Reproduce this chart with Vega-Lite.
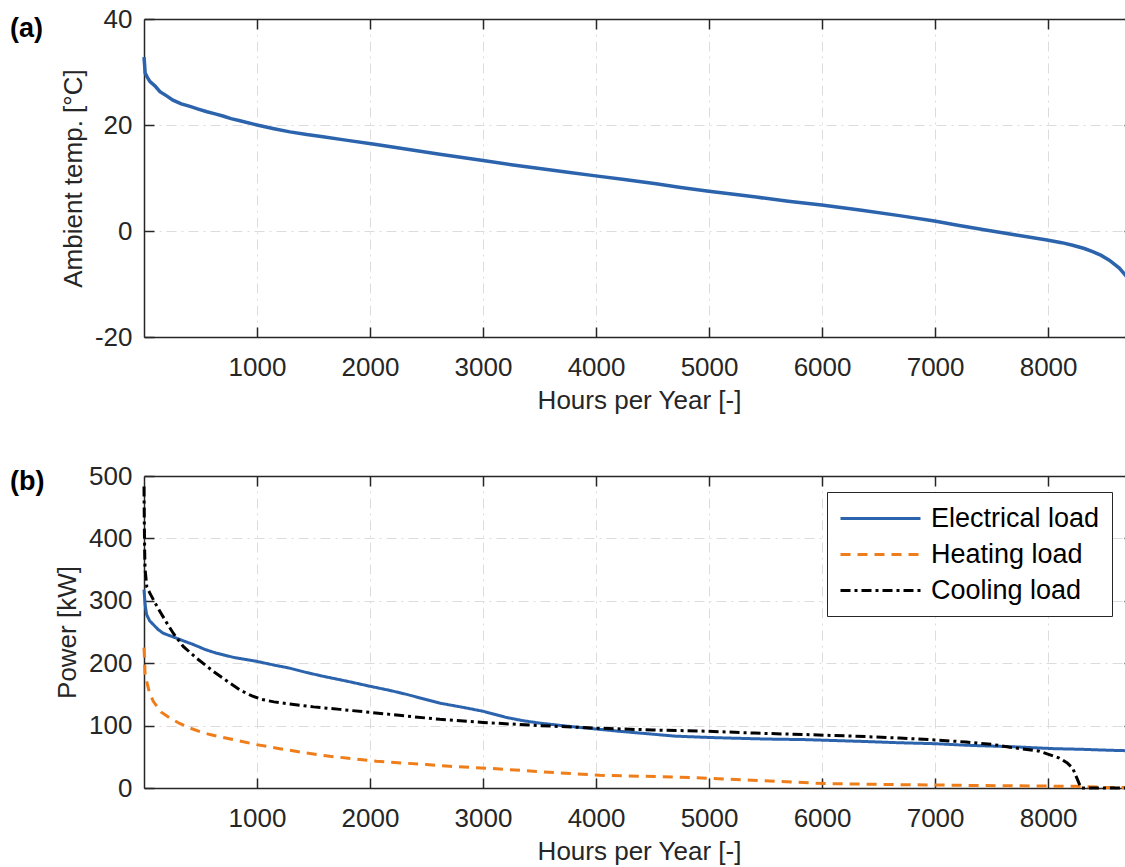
{
  "$schema": "https://vega.github.io/schema/vega-lite/v6.json",
  "autosize": {"type": "none"},
  "padding": {"left": 144, "top": 19, "right": 981, "bottom": 848},
  "background": "white",
  "spacing": 50,
  "datasets": {
    "temp": [
      {"h": 0, "t": 32.8}, {"h": 5, "t": 31.5}, {"h": 10, "t": 29.8}, {"h": 30, "t": 29.0},
      {"h": 53, "t": 28.2}, {"h": 100, "t": 27.3}, {"h": 141, "t": 26.3}, {"h": 200, "t": 25.5},
      {"h": 256, "t": 24.7}, {"h": 330, "t": 24.0}, {"h": 407, "t": 23.5}, {"h": 480, "t": 23.0},
      {"h": 557, "t": 22.5}, {"h": 630, "t": 22.1}, {"h": 698, "t": 21.7}, {"h": 770, "t": 21.2},
      {"h": 849, "t": 20.8}, {"h": 1000, "t": 20.0}, {"h": 1150, "t": 19.3}, {"h": 1291, "t": 18.7},
      {"h": 1440, "t": 18.2}, {"h": 1583, "t": 17.8}, {"h": 1800, "t": 17.1}, {"h": 2025, "t": 16.4},
      {"h": 2300, "t": 15.5}, {"h": 2617, "t": 14.5}, {"h": 3000, "t": 13.3}, {"h": 3250, "t": 12.5},
      {"h": 3501, "t": 11.8}, {"h": 3750, "t": 11.1}, {"h": 3997, "t": 10.4}, {"h": 4250, "t": 9.7},
      {"h": 4531, "t": 8.9}, {"h": 4750, "t": 8.2}, {"h": 4998, "t": 7.5}, {"h": 5200, "t": 7.0},
      {"h": 5417, "t": 6.4}, {"h": 5700, "t": 5.6}, {"h": 5997, "t": 4.9}, {"h": 6350, "t": 3.9},
      {"h": 6684, "t": 2.9}, {"h": 6994, "t": 1.9}, {"h": 7200, "t": 1.1}, {"h": 7421, "t": 0.3},
      {"h": 7716, "t": -0.75}, {"h": 7990, "t": -1.7}, {"h": 8120, "t": -2.2}, {"h": 8217, "t": -2.7},
      {"h": 8320, "t": -3.3}, {"h": 8394, "t": -3.9}, {"h": 8470, "t": -4.6},
      {"h": 8541, "t": -5.5}, {"h": 8630, "t": -7.0}, {"h": 8674, "t": -8.1}, {"h": 8720, "t": -9.3},
      {"h": 8760, "t": -11.0}
    ],
    "load": [
      {"h": 0, "p": 318, "s": "Electrical load"}, {"h": 10, "p": 294, "s": "Electrical load"},
      {"h": 23, "p": 278, "s": "Electrical load"}, {"h": 50, "p": 268, "s": "Electrical load"},
      {"h": 82, "p": 262, "s": "Electrical load"}, {"h": 125, "p": 254, "s": "Electrical load"},
      {"h": 170, "p": 248, "s": "Electrical load"}, {"h": 230, "p": 244, "s": "Electrical load"},
      {"h": 289, "p": 240, "s": "Electrical load"}, {"h": 360, "p": 235, "s": "Electrical load"},
      {"h": 436, "p": 230, "s": "Electrical load"}, {"h": 540, "p": 222, "s": "Electrical load"},
      {"h": 642, "p": 216, "s": "Electrical load"}, {"h": 800, "p": 209, "s": "Electrical load"},
      {"h": 996, "p": 203, "s": "Electrical load"}, {"h": 1150, "p": 197, "s": "Electrical load"},
      {"h": 1291, "p": 192, "s": "Electrical load"}, {"h": 1440, "p": 185, "s": "Electrical load"},
      {"h": 1586, "p": 179, "s": "Electrical load"}, {"h": 1800, "p": 171, "s": "Electrical load"},
      {"h": 2000, "p": 163, "s": "Electrical load"}, {"h": 2160, "p": 157, "s": "Electrical load"},
      {"h": 2325, "p": 150, "s": "Electrical load"}, {"h": 2470, "p": 143, "s": "Electrical load"},
      {"h": 2617, "p": 136, "s": "Electrical load"}, {"h": 2800, "p": 130, "s": "Electrical load"},
      {"h": 3000, "p": 123, "s": "Electrical load"}, {"h": 3207, "p": 113, "s": "Electrical load"},
      {"h": 3350, "p": 108, "s": "Electrical load"}, {"h": 3501, "p": 104, "s": "Electrical load"},
      {"h": 3750, "p": 99, "s": "Electrical load"}, {"h": 3997, "p": 94.6, "s": "Electrical load"},
      {"h": 4200, "p": 91, "s": "Electrical load"}, {"h": 4386, "p": 88, "s": "Electrical load"},
      {"h": 4711, "p": 83, "s": "Electrical load"}, {"h": 5000, "p": 81, "s": "Electrical load"},
      {"h": 5180, "p": 80, "s": "Electrical load"}, {"h": 5500, "p": 78.5, "s": "Electrical load"},
      {"h": 5858, "p": 77.5, "s": "Electrical load"}, {"h": 6300, "p": 75, "s": "Electrical load"},
      {"h": 6684, "p": 72.5, "s": "Electrical load"}, {"h": 7000, "p": 71, "s": "Electrical load"},
      {"h": 7275, "p": 68.5, "s": "Electrical load"}, {"h": 7700, "p": 66, "s": "Electrical load"},
      {"h": 8055, "p": 63, "s": "Electrical load"}, {"h": 8300, "p": 62, "s": "Electrical load"},
      {"h": 8541, "p": 60.5, "s": "Electrical load"}, {"h": 8760, "p": 59.5, "s": "Electrical load"},

      {"h": 0, "p": 225, "s": "Heating load"}, {"h": 5, "p": 205, "s": "Heating load"},
      {"h": 9, "p": 184, "s": "Heating load"}, {"h": 23, "p": 171, "s": "Heating load"},
      {"h": 50, "p": 152, "s": "Heating load"}, {"h": 82, "p": 139, "s": "Heating load"},
      {"h": 150, "p": 122, "s": "Heating load"}, {"h": 230, "p": 112, "s": "Heating load"},
      {"h": 320, "p": 103, "s": "Heating load"}, {"h": 407, "p": 96, "s": "Heating load"},
      {"h": 500, "p": 90, "s": "Heating load"}, {"h": 584, "p": 85.6, "s": "Heating load"},
      {"h": 790, "p": 77.6, "s": "Heating load"}, {"h": 996, "p": 69.5, "s": "Heating load"},
      {"h": 1202, "p": 63, "s": "Heating load"}, {"h": 1438, "p": 56, "s": "Heating load"},
      {"h": 1645, "p": 50.8, "s": "Heating load"}, {"h": 1851, "p": 47, "s": "Heating load"},
      {"h": 2057, "p": 42.8, "s": "Heating load"}, {"h": 2293, "p": 40, "s": "Heating load"},
      {"h": 2500, "p": 37.5, "s": "Heating load"}, {"h": 2706, "p": 34.8, "s": "Heating load"},
      {"h": 3148, "p": 30.5, "s": "Heating load"}, {"h": 3590, "p": 25.2, "s": "Heating load"},
      {"h": 4032, "p": 20.4, "s": "Heating load"}, {"h": 4711, "p": 17.6, "s": "Heating load"},
      {"h": 5150, "p": 14.4, "s": "Heating load"}, {"h": 5592, "p": 10.7, "s": "Heating load"},
      {"h": 6034, "p": 7, "s": "Heating load"}, {"h": 6684, "p": 5.4, "s": "Heating load"},
      {"h": 7400, "p": 4, "s": "Heating load"}, {"h": 8244, "p": 2.7, "s": "Heating load"},
      {"h": 8500, "p": 1, "s": "Heating load"}, {"h": 8760, "p": 0.5, "s": "Heating load"},

      {"h": 0, "p": 483, "s": "Cooling load"}, {"h": 3, "p": 420, "s": "Cooling load"},
      {"h": 6, "p": 380, "s": "Cooling load"}, {"h": 9, "p": 352, "s": "Cooling load"},
      {"h": 25, "p": 322, "s": "Cooling load"}, {"h": 53, "p": 312, "s": "Cooling load"},
      {"h": 100, "p": 296, "s": "Cooling load"}, {"h": 141, "p": 283, "s": "Cooling load"},
      {"h": 200, "p": 265, "s": "Cooling load"}, {"h": 259, "p": 248, "s": "Cooling load"},
      {"h": 347, "p": 227, "s": "Cooling load"}, {"h": 465, "p": 208, "s": "Cooling load"},
      {"h": 613, "p": 187, "s": "Cooling load"}, {"h": 760, "p": 168, "s": "Cooling load"},
      {"h": 860, "p": 156, "s": "Cooling load"}, {"h": 950, "p": 148, "s": "Cooling load"},
      {"h": 1040, "p": 142, "s": "Cooling load"}, {"h": 1150, "p": 138, "s": "Cooling load"},
      {"h": 1291, "p": 134.5, "s": "Cooling load"},
      {"h": 1500, "p": 130, "s": "Cooling load"}, {"h": 1733, "p": 126, "s": "Cooling load"},
      {"h": 2175, "p": 118, "s": "Cooling load"}, {"h": 2617, "p": 110, "s": "Cooling load"},
      {"h": 3000, "p": 105, "s": "Cooling load"}, {"h": 3501, "p": 100, "s": "Cooling load"},
      {"h": 3997, "p": 96, "s": "Cooling load"}, {"h": 4500, "p": 93, "s": "Cooling load"},
      {"h": 4976, "p": 91, "s": "Cooling load"}, {"h": 5400, "p": 88, "s": "Cooling load"},
      {"h": 5858, "p": 85.6, "s": "Cooling load"}, {"h": 6300, "p": 83, "s": "Cooling load"},
      {"h": 6684, "p": 80, "s": "Cooling load"}, {"h": 7000, "p": 77, "s": "Cooling load"},
      {"h": 7275, "p": 73.7, "s": "Cooling load"}, {"h": 7500, "p": 70, "s": "Cooling load"},
      {"h": 7716, "p": 64, "s": "Cooling load"}, {"h": 7922, "p": 59, "s": "Cooling load"},
      {"h": 8099, "p": 48, "s": "Cooling load"}, {"h": 8170, "p": 40, "s": "Cooling load"},
      {"h": 8217, "p": 32, "s": "Cooling load"}, {"h": 8261, "p": 13, "s": "Cooling load"},
      {"h": 8291, "p": 0, "s": "Cooling load"}, {"h": 8400, "p": 0, "s": "Cooling load"},
      {"h": 8760, "p": 0, "s": "Cooling load"}
    ]
  },
  "vconcat": [
    {
      "width": 990,
      "height": 318,
      "title": {"text": "(a)", "anchor": "start", "frame": "group", "fontWeight": "bold", "fontSize": 27, "color": "#000000", "dx": -134, "dy": 41},
      "data": {"name": "temp"},
      "resolve": {"axis": {"x": "independent", "y": "independent"}},
      "layer": [
        {
          "mark": {"type": "line", "color": "#2c63ad", "strokeWidth": 3.5},
          "encoding": {
            "x": {"field": "h", "type": "quantitative", "scale": {"domain": [0, 8760], "nice": false, "zero": false},
                  "axis": {"title": "Hours per Year [-]", "values": [1000, 2000, 3000, 4000, 5000, 6000, 7000, 8000], "format": "d", "grid": true}},
            "y": {"field": "t", "type": "quantitative", "scale": {"domain": [-20, 40], "nice": false, "zero": false},
                  "axis": {"title": "Ambient temp. [°C]", "values": [-20, 0, 20, 40], "grid": true, "labelExpr": "'' + datum.value"}}
          }
        },
        {
          "mark": {"type": "line", "strokeOpacity": 0},
          "encoding": {
            "x": {"field": "h", "type": "quantitative", "axis": {"orient": "top", "labels": false, "title": null, "grid": false, "values": [1000, 2000, 3000, 4000, 5000, 6000, 7000, 8000]}},
            "y": {"field": "t", "type": "quantitative", "axis": {"orient": "right", "labels": false, "title": null, "grid": false, "values": [-20, 0, 20, 40]}}
          }
        }
      ]
    },
    {
      "width": 990,
      "height": 312,
      "title": {"text": "(b)", "anchor": "start", "frame": "group", "fontWeight": "bold", "fontSize": 27, "color": "#000000", "dx": -134, "dy": 37},
      "data": {"name": "load"},
      "resolve": {"axis": {"x": "independent", "y": "independent"}},
      "layer": [
        {
          "mark": {"type": "line", "strokeWidth": 3},
          "encoding": {
            "x": {"field": "h", "type": "quantitative", "scale": {"domain": [0, 8760], "nice": false, "zero": false},
                  "axis": {"title": "Hours per Year [-]", "values": [1000, 2000, 3000, 4000, 5000, 6000, 7000, 8000], "format": "d", "grid": true}},
            "y": {"field": "p", "type": "quantitative", "scale": {"domain": [0, 500], "nice": false},
                  "axis": {"title": "Power [kW]", "values": [0, 100, 200, 300, 400, 500], "grid": true}},
            "color": {"field": "s", "type": "nominal",
                      "scale": {"domain": ["Electrical load", "Heating load", "Cooling load"], "range": ["#2c63ad", "#ef7d1a", "#000000"]},
                      "legend": {"orient": "none", "legendX": 683, "legendY": 473, "title": null, "symbolType": "M-1,0H5.154", "symbolSize": 676, "symbolStrokeWidth": 3, "labelFontSize": 27, "labelColor": "#000000", "labelFont": "Liberation Sans", "labelLimit": 400, "strokeColor": "#262626", "fillColor": "white", "padding": 12, "rowPadding": 8, "labelOffset": 63}},
            "strokeDash": {"field": "s", "type": "nominal",
                      "scale": {"domain": ["Electrical load", "Heating load", "Cooling load"], "range": [[1, 0], [10, 7], [10, 4, 3, 4]]},
                      "legend": {"orient": "none", "legendX": 683, "legendY": 473, "title": null, "symbolType": "M-1,0H5.154", "symbolSize": 676, "symbolStrokeWidth": 3, "labelFontSize": 27, "labelColor": "#000000", "labelFont": "Liberation Sans", "labelLimit": 400, "strokeColor": "#262626", "fillColor": "white", "padding": 12, "rowPadding": 8, "labelOffset": 63}}
          }
        },
        {
          "mark": {"type": "line", "strokeOpacity": 0},
          "encoding": {
            "x": {"field": "h", "type": "quantitative", "axis": {"orient": "top", "labels": false, "title": null, "grid": false, "values": [1000, 2000, 3000, 4000, 5000, 6000, 7000, 8000]}},
            "y": {"field": "p", "type": "quantitative", "axis": {"orient": "right", "labels": false, "title": null, "grid": false, "values": [0, 100, 200, 300, 400, 500]}}
          }
        }
      ]
    }
  ],
  "config": {
    "font": "Liberation Sans",
    "view": {"stroke": null},
    "axis": {
      "domainColor": "#262626", "domainWidth": 1.5,
      "tickColor": "#262626", "tickWidth": 1.5, "tickSize": -10,
      "labelFont": "Liberation Sans", "labelFontSize": 26, "labelColor": "#262626",
      "titleFont": "Liberation Sans", "titleFontSize": 26, "titleFontWeight": "normal", "titleColor": "#262626",
      "gridColor": "#dcdcdc", "gridDash": [10, 5, 2, 5], "gridWidth": 1
    },
    "axisX": {"labelPadding": 27, "titlePadding": 7},
    "axisY": {"labelPadding": 22, "titlePadding": 8}
  }
}
